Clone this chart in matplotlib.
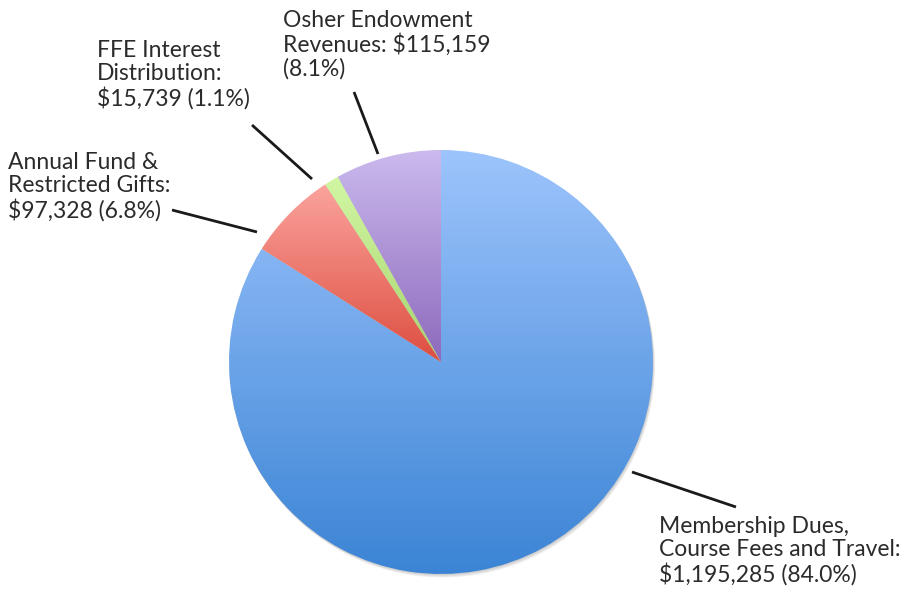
import numpy as np
import matplotlib
matplotlib.use("Agg")
import matplotlib.pyplot as plt
from matplotlib.colors import LinearSegmentedColormap
from matplotlib.patches import Circle

labels = ["Membership Dues,\nCourse Fees and Travel:\n$1,195,285 (84.0%)",
          "Annual Fund &\nRestricted Gifts:\n$97,328 (6.8%)",
          "FFE Interest\nDistribution:\n$15,739 (1.1%)",
          "Osher Endowment\nRevenues: $115,159\n(8.1%)"]
values = [1195285, 97328, 15739, 115159]
top_colors = ["#9dc4fc", "#fba39d", "#d2f7a4", "#cbbaee"]
bottom_colors = ["#3b84d5", "#dd4e40", "#a6d46c", "#8d69bc"]

W, H = 910, 589
fig = plt.figure(figsize=(W / 100, H / 100), dpi=100)
ax = fig.add_axes([0, 0, 1, 1])

cx, cy, R = 441, H - 362, 212

# soft shadow (mostly below the pie)
for k in range(1, 5):
    ax.add_patch(Circle((cx + 0.5 * k, cy - 0.9 * k), R, color="#000000",
                        alpha=0.05, lw=0, zorder=0))

wedges, _ = ax.pie(values, startangle=90, counterclock=False, center=(cx, cy),
                   radius=R, frame=True,
                   wedgeprops=dict(linewidth=0))

for w, c1, c2 in zip(wedges, top_colors, bottom_colors):
    verts = w.get_path().vertices
    ymin, ymax = verts[:, 1].min(), verts[:, 1].max()
    xmin, xmax = verts[:, 0].min(), verts[:, 0].max()
    w.set_facecolor("none")
    cmap = LinearSegmentedColormap.from_list("g", [c2, c1])
    grad = np.linspace(0, 1, 256).reshape(-1, 1)
    im = ax.imshow(grad, cmap=cmap, extent=[xmin, xmax, ymin, ymax],
                   origin="lower", aspect="auto", zorder=1, interpolation="bilinear")
    im.set_clip_path(w)

ax.set_xlim(0, W)
ax.set_ylim(0, H)
ax.set_aspect("equal")
ax.axis("off")

plt.rcParams["font.family"] = ["Lato", "DejaVu Sans"]
txt = dict(fontsize=16.5, color="#2b2b2b", linespacing=1.12, va="top", ha="left",
           fontweight="normal")
label_pos = [(659, 516), (8, 152), (97, 40), (283, 10)]
leaders = [((632, 472), (736, 507)), ((172, 210), (257, 232)),
           ((252, 125), (312, 179)), ((354, 92), (378, 154))]
for lab, (lx, ly), (p1, p2) in zip(labels, label_pos, leaders):
    ax.text(lx, H - ly, lab, family=["Lato", "DejaVu Sans"], **txt)
    ax.plot([p1[0], p2[0]], [H - p1[1], H - p2[1]], color="#1a1a1a", lw=2,
            solid_capstyle="butt", zorder=3)

fig.savefig("out.png", dpi=100, facecolor="white")
